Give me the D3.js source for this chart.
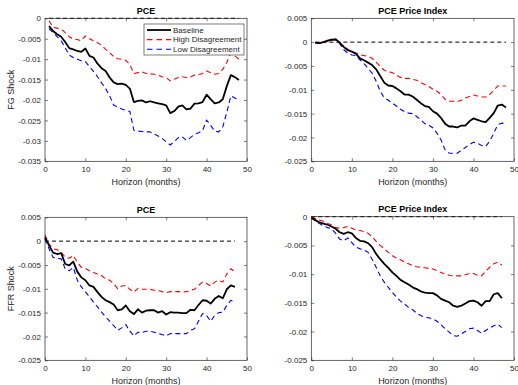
<!DOCTYPE html>
<html>
<head>
<meta charset="utf-8">
<script src="https://cdn.jsdelivr.net/npm/d3@7"></script>
<style>
  html, body { margin: 0; padding: 0; background: #fff; }
  svg { display: block; font-family: "Liberation Sans", Arial, Helvetica, sans-serif; }
</style>
</head>
<body>
<svg id="chart" width="518" height="385"></svg>
<script>
// Horizons (months) for the forward-guidance and fed-funds-rate shock responses
const horizonFG = d3.range(1, 49);
const horizonFFR = d3.range(0, 48);

const xTicks = [0, 10, 20, 30, 40, 50];
const yTicksFGPCE = [0, -0.005, -0.01, -0.015, -0.02, -0.025, -0.03, -0.035];
const yTicksMid = [0.005, 0, -0.005, -0.01, -0.015, -0.02, -0.025];
const yTicksFFRPrice = [0, -0.005, -0.01, -0.015, -0.02, -0.025];

const seriesNames = ["Baseline", "High Disagreement", "Low Disagreement"];

// FG shock: PCE
const fgPceBaseline = [-0.0019,-0.0031,-0.0039,-0.0045,-0.0058,-0.0073,-0.0076,-0.0080,-0.0082,-0.0074,
  -0.0092,-0.0096,-0.0111,-0.0122,-0.0129,-0.0145,-0.0157,-0.0161,-0.0160,-0.0163,
  -0.0172,-0.0205,-0.0202,-0.0201,-0.0206,-0.0203,-0.0206,-0.0208,-0.0210,-0.0213,
  -0.0232,-0.0227,-0.0216,-0.0213,-0.0223,-0.0221,-0.0209,-0.0208,-0.0205,-0.0187,
  -0.0198,-0.0208,-0.0206,-0.0198,-0.0166,-0.0139,-0.0144,-0.0151];
const fgPceHigh = [-0.0006,-0.0022,-0.0024,-0.0026,-0.0035,-0.0045,-0.0051,-0.0052,-0.0055,-0.0043,
  -0.0050,-0.0055,-0.0060,-0.0066,-0.0076,-0.0084,-0.0094,-0.0099,-0.0100,-0.0103,
  -0.0113,-0.0135,-0.0133,-0.0131,-0.0135,-0.0136,-0.0137,-0.0139,-0.0143,-0.0145,
  -0.0153,-0.0149,-0.0145,-0.0143,-0.0145,-0.0144,-0.0139,-0.0138,-0.0135,-0.0129,
  -0.0133,-0.0137,-0.0135,-0.0125,-0.0108,-0.0085,-0.0092,-0.0100];
const fgPceLow = [-0.0025,-0.0035,-0.0045,-0.0055,-0.0072,-0.0090,-0.0096,-0.0100,-0.0104,-0.0106,
  -0.0118,-0.0130,-0.0143,-0.0158,-0.0172,-0.0190,-0.0212,-0.0218,-0.0222,-0.0225,
  -0.0228,-0.0274,-0.0276,-0.0277,-0.0278,-0.0278,-0.0283,-0.0288,-0.0294,-0.0302,
  -0.0310,-0.0302,-0.0292,-0.0290,-0.0299,-0.0292,-0.0284,-0.0280,-0.0275,-0.0249,
  -0.0262,-0.0276,-0.0278,-0.0266,-0.0230,-0.0190,-0.0195,-0.0203];

// FG shock: PCE price index
const fgPriceBaseline = [-0.0001,-0.0002,0.0000,0.0003,0.0005,0.0006,-0.0001,-0.0010,-0.0017,-0.0020,
  -0.0024,-0.0034,-0.0038,-0.0043,-0.0048,-0.0057,-0.0071,-0.0085,-0.0091,-0.0092,
  -0.0097,-0.0103,-0.0110,-0.0110,-0.0114,-0.0121,-0.0128,-0.0134,-0.0136,-0.0145,
  -0.0150,-0.0159,-0.0171,-0.0177,-0.0177,-0.0179,-0.0175,-0.0175,-0.0166,-0.0160,
  -0.0163,-0.0166,-0.0168,-0.0159,-0.0149,-0.0133,-0.0131,-0.0137];
const fgPriceHigh = [-0.0001,-0.0002,-0.0001,0.0002,0.0004,0.0005,-0.0003,-0.0009,-0.0015,-0.0020,
  -0.0023,-0.0027,-0.0028,-0.0030,-0.0034,-0.0042,-0.0051,-0.0059,-0.0062,-0.0064,
  -0.0069,-0.0074,-0.0076,-0.0076,-0.0078,-0.0080,-0.0085,-0.0089,-0.0093,-0.0099,
  -0.0103,-0.0110,-0.0120,-0.0124,-0.0124,-0.0125,-0.0122,-0.0117,-0.0114,-0.0111,
  -0.0113,-0.0115,-0.0115,-0.0110,-0.0101,-0.0092,-0.0092,-0.0092];
const fgPriceLow = [-0.0002,-0.0003,-0.0001,0.0003,0.0005,0.0006,-0.0003,-0.0016,-0.0023,-0.0027,
  -0.0028,-0.0037,-0.0045,-0.0055,-0.0065,-0.0082,-0.0103,-0.0117,-0.0122,-0.0128,
  -0.0134,-0.0141,-0.0146,-0.0149,-0.0150,-0.0156,-0.0163,-0.0171,-0.0174,-0.0180,
  -0.0191,-0.0205,-0.0226,-0.0233,-0.0233,-0.0233,-0.0227,-0.0221,-0.0215,-0.0210,
  -0.0212,-0.0217,-0.0219,-0.0208,-0.0191,-0.0173,-0.0170,-0.0171];

// FFR shock: PCE
const ffrPceBaseline = [0.0008,-0.0009,-0.0024,-0.0027,-0.0025,-0.0048,-0.0051,-0.0043,-0.0064,-0.0076,
  -0.0082,-0.0093,-0.0096,-0.0107,-0.0117,-0.0124,-0.0128,-0.0133,-0.0145,-0.0143,
  -0.0135,-0.0147,-0.0153,-0.0143,-0.0150,-0.0146,-0.0145,-0.0145,-0.0150,-0.0147,
  -0.0154,-0.0149,-0.0150,-0.0150,-0.0151,-0.0151,-0.0144,-0.0145,-0.0134,-0.0124,
  -0.0125,-0.0131,-0.0121,-0.0115,-0.0120,-0.0101,-0.0093,-0.0096];
const ffrPceHigh = [0.0013,-0.0006,-0.0016,-0.0018,-0.0023,-0.0034,-0.0036,-0.0030,-0.0044,-0.0055,
  -0.0057,-0.0062,-0.0066,-0.0069,-0.0072,-0.0079,-0.0082,-0.0089,-0.0100,-0.0094,
  -0.0093,-0.0101,-0.0107,-0.0099,-0.0101,-0.0101,-0.0101,-0.0103,-0.0103,-0.0106,
  -0.0108,-0.0106,-0.0106,-0.0106,-0.0107,-0.0106,-0.0103,-0.0101,-0.0093,-0.0086,
  -0.0089,-0.0094,-0.0086,-0.0082,-0.0086,-0.0069,-0.0058,-0.0064];
const ffrPceLow = [0.0005,-0.0016,-0.0034,-0.0036,-0.0037,-0.0058,-0.0062,-0.0055,-0.0082,-0.0096,
  -0.0106,-0.0117,-0.0128,-0.0138,-0.0149,-0.0159,-0.0168,-0.0177,-0.0187,-0.0182,
  -0.0175,-0.0189,-0.0199,-0.0191,-0.0192,-0.0189,-0.0189,-0.0191,-0.0194,-0.0196,
  -0.0199,-0.0194,-0.0194,-0.0194,-0.0194,-0.0194,-0.0187,-0.0184,-0.0168,-0.0152,
  -0.0156,-0.0168,-0.0156,-0.0150,-0.0149,-0.0135,-0.0124,-0.0128];

// FFR shock: PCE price index
const ffrPriceBaseline = [-0.0002,-0.0006,-0.0010,-0.0012,-0.0014,-0.0017,-0.0021,-0.0027,-0.0030,-0.0027,
  -0.0029,-0.0037,-0.0042,-0.0043,-0.0046,-0.0053,-0.0065,-0.0074,-0.0082,-0.0089,
  -0.0097,-0.0103,-0.0110,-0.0114,-0.0118,-0.0123,-0.0126,-0.0130,-0.0132,-0.0133,
  -0.0133,-0.0137,-0.0143,-0.0146,-0.0149,-0.0155,-0.0157,-0.0155,-0.0151,-0.0147,
  -0.0146,-0.0149,-0.0155,-0.0147,-0.0147,-0.0135,-0.0133,-0.0142];
const ffrPriceHigh = [0.0000,-0.0003,-0.0006,-0.0008,-0.0012,-0.0014,-0.0019,-0.0020,-0.0019,-0.0017,
  -0.0020,-0.0023,-0.0024,-0.0026,-0.0029,-0.0035,-0.0043,-0.0050,-0.0056,-0.0062,
  -0.0068,-0.0072,-0.0075,-0.0079,-0.0082,-0.0085,-0.0087,-0.0088,-0.0089,-0.0090,
  -0.0091,-0.0094,-0.0097,-0.0100,-0.0102,-0.0103,-0.0103,-0.0103,-0.0101,-0.0099,
  -0.0099,-0.0102,-0.0103,-0.0095,-0.0088,-0.0082,-0.0079,-0.0084];
const ffrPriceLow = [-0.0001,-0.0007,-0.0012,-0.0016,-0.0019,-0.0021,-0.0029,-0.0039,-0.0042,-0.0037,
  -0.0045,-0.0053,-0.0056,-0.0058,-0.0062,-0.0074,-0.0088,-0.0103,-0.0114,-0.0123,
  -0.0132,-0.0140,-0.0147,-0.0152,-0.0158,-0.0162,-0.0168,-0.0172,-0.0175,-0.0176,
  -0.0178,-0.0182,-0.0188,-0.0195,-0.0201,-0.0207,-0.0208,-0.0204,-0.0200,-0.0195,
  -0.0194,-0.0198,-0.0203,-0.0198,-0.0194,-0.0190,-0.0187,-0.0193];

const styles = [
  { color: "#000000", width: 1.8, dash: null },
  { color: "#ff0000", width: 1.1, dash: "5,3.5" },
  { color: "#0000ff", width: 1.1, dash: "5,3.5" }
];

const axisColor = "#262626";

const panels = [
  { title: "PCE", ylabel: "FG Shock", left: 45, right: 247, top: 18.3, bottom: 161.3,
    yDomain: [-0.035, 0], yTicks: yTicksFGPCE, horizon: horizonFG,
    series: [fgPceBaseline, fgPceHigh, fgPceLow], legend: true },
  { title: "PCE Price Index", ylabel: null, left: 311.3, right: 514, top: 18.3, bottom: 161.3,
    yDomain: [-0.025, 0.005], yTicks: yTicksMid, horizon: horizonFG,
    series: [fgPriceBaseline, fgPriceHigh, fgPriceLow], legend: false },
  { title: "PCE", ylabel: "FFR Shock", left: 45, right: 247, top: 217.3, bottom: 360.3,
    yDomain: [-0.025, 0.005], yTicks: yTicksMid, horizon: horizonFFR,
    series: [ffrPceBaseline, ffrPceHigh, ffrPceLow], legend: false },
  { title: "PCE Price Index", ylabel: null, left: 311.3, right: 514, top: 216.7, bottom: 360.3,
    yDomain: [-0.025, 0], yTicks: yTicksFFRPrice, horizon: horizonFFR,
    series: [ffrPriceBaseline, ffrPriceHigh, ffrPriceLow], legend: false }
];

const fmt = d => (Math.abs(d) < 1e-12 ? "0" : String(+d.toFixed(4)));

const svg = d3.select("#chart");

panels.forEach(p => {
  const x = d3.scaleLinear().domain([0, 50]).range([p.left, p.right]);
  const y = d3.scaleLinear().domain(p.yDomain).range([p.bottom, p.top]);
  const g = svg.append("g");

  // zero reference line
  const h0 = p.horizon[0], h1 = p.horizon[p.horizon.length - 1];
  g.append("line")
    .attr("x1", x(h0)).attr("x2", x(h1))
    .attr("y1", y(0)).attr("y2", y(0))
    .attr("stroke", "#000").attr("stroke-width", 1)
    .attr("stroke-dasharray", "4,3");

  // response lines: low, high, then baseline on top
  const line = d3.line().x(d => x(d[0])).y(d => y(d[1]));
  [2, 1, 0].forEach(i => {
    const pts = p.horizon.map((h, k) => [h, p.series[i][k]]);
    g.append("path")
      .attr("d", line(pts))
      .attr("fill", "none")
      .attr("stroke", styles[i].color)
      .attr("stroke-width", styles[i].width)
      .attr("stroke-dasharray", styles[i].dash)
      .attr("stroke-linejoin", "round");
  });

  // axes: ticks point inward on all four sides
  const styleAxis = sel => {
    sel.select(".domain").remove();
    sel.selectAll(".tick line").attr("stroke", axisColor).attr("stroke-width", 0.6);
    sel.selectAll(".tick text").attr("fill", axisColor).attr("font-size", 8)
      .attr("font-family", "Liberation Sans, Arial, sans-serif");
  };
  g.append("g").attr("transform", `translate(0,${p.bottom})`)
    .call(d3.axisBottom(x).tickValues(xTicks).tickFormat(d3.format("d")).tickSize(-3).tickPadding(5))
    .call(styleAxis);
  g.append("g").attr("transform", `translate(0,${p.top})`)
    .call(d3.axisTop(x).tickValues(xTicks.slice(1, -1)).tickFormat("").tickSize(-3))
    .call(styleAxis);
  g.append("g").attr("transform", `translate(${p.left},0)`)
    .call(d3.axisLeft(y).tickValues(p.yTicks).tickFormat(fmt).tickSize(-3).tickPadding(4))
    .call(styleAxis);
  g.append("g").attr("transform", `translate(${p.right},0)`)
    .call(d3.axisRight(y).tickValues(p.yTicks.filter(v => v !== p.yDomain[0] && v !== p.yDomain[1])).tickFormat("").tickSize(-3))
    .call(styleAxis);

  g.append("rect")
    .attr("x", p.left).attr("y", p.top)
    .attr("width", p.right - p.left).attr("height", p.bottom - p.top)
    .attr("fill", "none").attr("stroke", axisColor).attr("stroke-width", 0.7);

  // title and axis labels
  g.append("text")
    .attr("x", (p.left + p.right) / 2).attr("y", p.top - 4.5)
    .attr("text-anchor", "middle").attr("font-size", 9).attr("font-weight", "bold")
    .attr("fill", "#000").text(p.title);
  g.append("text")
    .attr("x", (p.left + p.right) / 2).attr("y", p.bottom + 23.5)
    .attr("text-anchor", "middle").attr("font-size", 9)
    .attr("fill", axisColor).text("Horizon (months)");
  if (p.ylabel) {
    const cy = (p.top + p.bottom) / 2;
    g.append("text")
      .attr("transform", `translate(13.5,${cy}) rotate(-90)`)
      .attr("text-anchor", "middle").attr("font-size", 9)
      .attr("fill", axisColor).text(p.ylabel);
  }

  if (p.legend) {
    const lx = 144, ly = 24, lw = 100, lh = 31;
    const lg = g.append("g");
    lg.append("rect").attr("x", lx).attr("y", ly).attr("width", lw).attr("height", lh)
      .attr("fill", "#fff").attr("stroke", axisColor).attr("stroke-width", 0.6);
    seriesNames.forEach((name, i) => {
      const ry = ly + 6 + i * 9.6;
      lg.append("line")
        .attr("x1", lx + 3).attr("x2", lx + 27)
        .attr("y1", ry).attr("y2", ry)
        .attr("stroke", styles[i].color)
        .attr("stroke-width", i === 0 ? 1.8 : 1.1)
        .attr("stroke-dasharray", i === 0 ? null : "5.5,4");
      lg.append("text")
        .attr("x", lx + 29).attr("y", ry + 2.8)
        .attr("font-size", 8).attr("fill", axisColor).text(name);
    });
  }
});
</script>
</body>
</html>
